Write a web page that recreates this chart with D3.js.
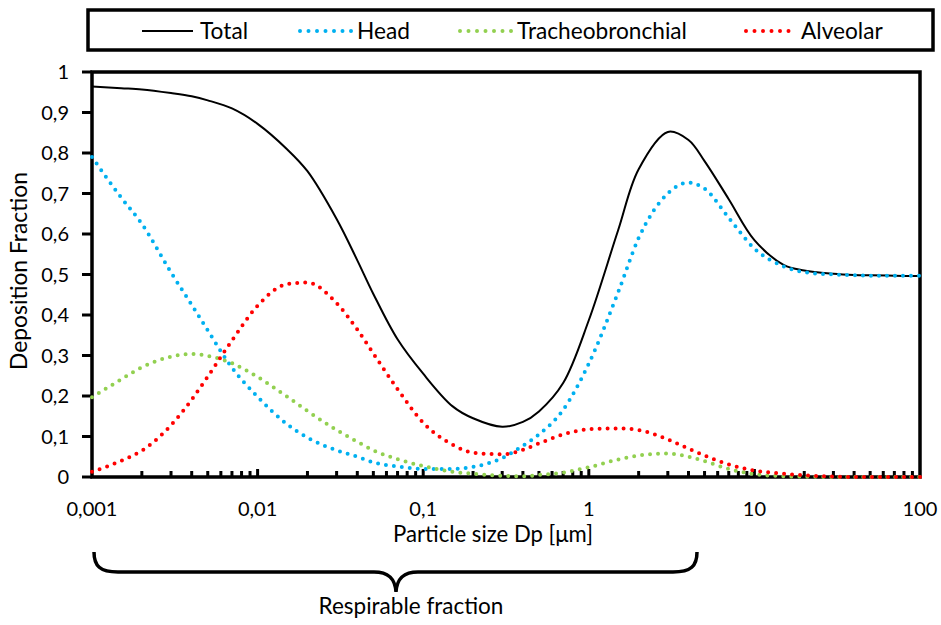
<!DOCTYPE html>
<html><head><meta charset="utf-8">
<script src="https://cdn.jsdelivr.net/npm/d3@7"></script>
<style>
body{margin:0;background:#fff}
svg{display:block}
text{font-family:Lato,"Open Sans",sans-serif;fill:#000}
</style>
</head><body>
<svg id="chart" width="941" height="625"></svg>
<script>
// ---------- data ----------
const sizes = [0.001,0.0015,0.002,0.003,0.004,0.005,0.007,0.01,0.015,0.02,0.03,0.04,0.05,0.07,0.1,0.15,0.2,0.3,0.4,0.5,0.7,1,1.5,2,3,4,5,7,10,15,20,30,40,50,70,100];
const total = [0.964,0.960,0.957,0.948,0.940,0.930,0.910,0.872,0.810,0.755,0.637,0.535,0.452,0.340,0.255,0.175,0.145,0.124,0.136,0.162,0.232,0.387,0.608,0.760,0.852,0.832,0.780,0.686,0.585,0.524,0.510,0.502,0.499,0.498,0.497,0.496];
const head = [0.790,0.690,0.625,0.505,0.425,0.362,0.270,0.198,0.131,0.097,0.066,0.050,0.036,0.026,0.020,0.020,0.025,0.047,0.077,0.105,0.166,0.280,0.455,0.590,0.700,0.727,0.712,0.640,0.564,0.520,0.506,0.500,0.498,0.497,0.497,0.497];
const tracheobronchial = [0.197,0.241,0.271,0.297,0.304,0.299,0.281,0.247,0.199,0.163,0.116,0.087,0.066,0.044,0.027,0.013,0.008,0.003,0.002,0.005,0.011,0.024,0.043,0.053,0.058,0.050,0.039,0.020,0.007,0.002,0.001,0,0,0,0,0];
const alveolar = [0.013,0.040,0.065,0.128,0.191,0.248,0.337,0.423,0.476,0.480,0.429,0.364,0.305,0.217,0.134,0.080,0.060,0.056,0.067,0.083,0.105,0.118,0.120,0.116,0.093,0.070,0.053,0.031,0.016,0.008,0.004,0.001,0,0,0,0];
const seriesNames = ["Total","Head","Tracheobronchial","Alveolar"];
const seriesColors = ["#000000","#00B0F0","#92D050","#FF0000"];
const xTickValues = [0.001,0.01,0.1,1,10,100];
const yTickValues = [0,0.1,0.2,0.3,0.4,0.5,0.6,0.7,0.8,0.9,1];
const xTitle = "Particle size Dp [μm]";
const yTitle = "Deposition Fraction";
const braceLabel = "Respirable fraction";

// ---------- layout ----------
const svg = d3.select("#chart");
const L = 92, R = 920, T = 72, B = 477;
const x = d3.scaleLog().domain([0.001,100]).range([L,R]);
const y = d3.scaleLinear().domain([0,1]).range([B,T]);

function fitSize(str, targetW){
  const t = svg.append("text").style("font-size","100px").text(str);
  const w = t.node().getComputedTextLength();
  t.remove();
  return 100*targetW/w;
}
const tickFs = fitSize("0,001", 51);
const legFs = fitSize("Tracheobronchial", 170);
const titleFs = fitSize(xTitle, 200);
const yTitleFs = fitSize(yTitle, 198);
const braceFs = fitSize(braceLabel, 185);

const fmt = v => String(+v.toFixed(3)).replace(".", ",");

// frame
svg.append("rect").attr("x",L).attr("y",T).attr("width",R-L).attr("height",B-T)
  .attr("fill","none").attr("stroke","#000").attr("stroke-width",3.5);

// y ticks & labels
const gy = svg.append("g");
gy.selectAll("line").data(yTickValues).join("line")
  .attr("x1",L-10).attr("x2",L).attr("y1",d=>y(d)).attr("y2",d=>y(d))
  .attr("stroke","#000").attr("stroke-width",3);
gy.selectAll("text").data(yTickValues).join("text")
  .attr("x",69).attr("y",d=>y(d)).attr("dy","0.36em").attr("text-anchor","end")
  .style("font-size",tickFs+"px").text(fmt);

// x minor/major ticks (inside)
const allTicks = x.ticks().filter(d => d > 0.001 && d < 100);
svg.append("g").selectAll("line").data(allTicks).join("line")
  .attr("x1",d=>x(d)).attr("x2",d=>x(d))
  .attr("y1",B).attr("y2",d => xTickValues.includes(d) ? B-8 : B-6)
  .attr("stroke","#000").attr("stroke-width",3);
svg.append("g").selectAll("text").data(xTickValues).join("text")
  .attr("x",d=>x(d)).attr("y",516).attr("text-anchor","middle")
  .style("font-size",tickFs+"px").text(fmt);

// axis titles
svg.append("text").attr("x",493).attr("y",542).attr("text-anchor","middle")
  .style("font-size",titleFs+"px").text(xTitle);
svg.append("text").attr("transform","translate(27,271) rotate(-90)").attr("text-anchor","middle")
  .style("font-size",yTitleFs+"px").text(yTitle);

// series
const seriesData = [total, head, tracheobronchial, alveolar];
const lineSmooth = d3.line().x(d=>x(d[0])).y(d=>y(d[1])).curve(d3.curveCatmullRom.alpha(0.5));
const lineMono = d3.line().x(d=>x(d[0])).y(d=>y(d[1])).curve(d3.curveMonotoneX);
seriesData.forEach((vals,i)=>{
  const pts = sizes.map((s,j)=>[s, vals[j]]);
  const p = svg.append("path").attr("d", (i===0?lineSmooth:lineMono)(pts)).attr("fill","none")
    .attr("stroke", seriesColors[i]);
  if(i===0){ p.attr("stroke-width",2); }
  else { p.attr("stroke-width",4).attr("stroke-linecap","round").attr("stroke-dasharray","0 8"); }
});

// legend
svg.append("rect").attr("x",88).attr("y",10).attr("width",845).attr("height",40)
  .attr("fill","#fff").attr("stroke","#000").attr("stroke-width",3.5);
const legX = [[142,193,200],[300,352,357],[460,512,517],[746,796,801]];
seriesNames.forEach((n,i)=>{
  const [a,b,tx] = legX[i];
  const l = svg.append("line").attr("x1",a).attr("x2",b).attr("y1",31).attr("y2",31)
    .attr("stroke",seriesColors[i]);
  if(i===0) l.attr("stroke-width",2);
  else l.attr("stroke-width",4).attr("stroke-linecap","round").attr("stroke-dasharray","0 8.5");
  svg.append("text").attr("x",tx).attr("y",31).attr("dy","0.36em")
    .style("font-size",legFs+"px").text(n);
});

// brace
const br = d3.path();
br.moveTo(94,552);
br.bezierCurveTo(94,566,100,572,118,572);
br.lineTo(374,572);
br.bezierCurveTo(388,572,395,578,396,592);
br.bezierCurveTo(397,578,404,572,418,572);
br.lineTo(673,572);
br.bezierCurveTo(691,572,697,566,697,552);
svg.append("path").attr("d",br.toString()).attr("fill","none").attr("stroke","#000").attr("stroke-width",3.5);
svg.append("text").attr("x",411).attr("y",614).attr("text-anchor","middle")
  .style("font-size",braceFs+"px").text(braceLabel);
</script>
</body></html>
